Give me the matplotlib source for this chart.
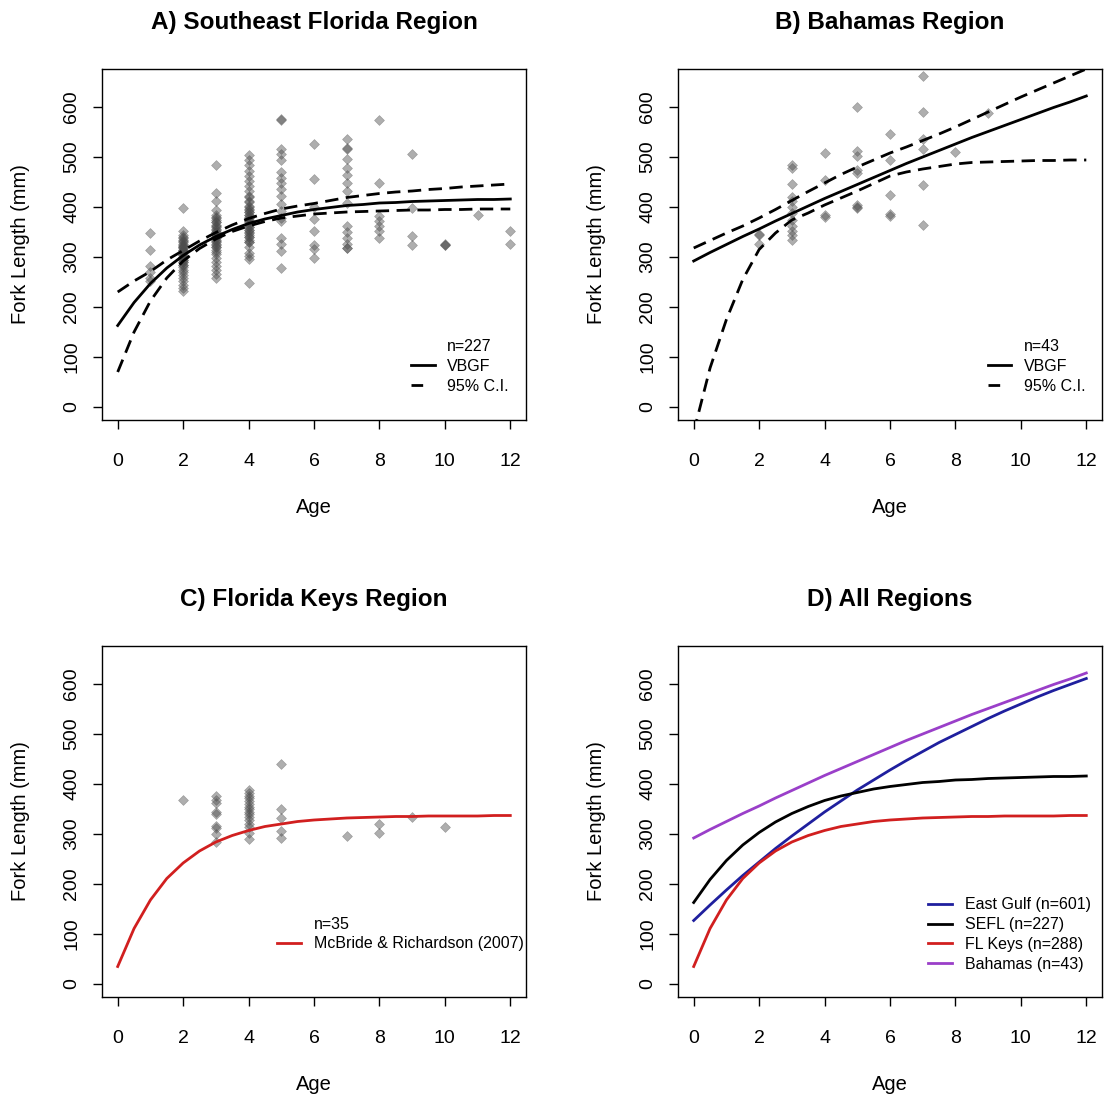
import numpy as np
import matplotlib
matplotlib.use('Agg')
import matplotlib.pyplot as plt
from matplotlib.lines import Line2D

plt.rcParams['font.family'] = ['Liberation Sans', 'DejaVu Sans']

curve_age = np.arange(0, 12.5, 0.5)

# A) Southeast Florida: VBGF and 95% C.I.
sefl_fit = [163, 209, 247, 278, 303, 324, 341, 355, 367, 376, 383, 390, 395,
            399, 403, 405, 408, 409, 411, 412, 413, 414, 415, 415, 416]
sefl_lo = [70, 150, 212, 258, 292, 317, 336, 351, 362, 371, 378, 382, 386,
           388, 390, 391, 392, 393, 394, 394, 395, 395, 396, 396, 396]
sefl_hi = [230, 252, 271, 294, 313, 332, 349, 364, 377, 387, 396, 402, 407,
           413, 419, 423, 427, 430, 432, 435, 437, 440, 442, 444, 446]

# B) Bahamas: VBGF and 95% C.I.
bah_fit = [292, 309, 325, 341, 356, 372, 387, 402, 417, 431, 445, 459, 473,
           487, 500, 513, 526, 539, 551, 563, 575, 587, 599, 610, 622]
bah_lo = [-50, 78, 175, 255, 315, 348, 374, 388, 404, 418, 432, 447, 462,
          470, 476, 481, 486, 489, 490, 491, 492, 493, 493, 494, 494]
bah_hi = [318, 333, 348, 362, 378, 395, 413, 431, 448, 465, 480, 494, 508,
          520, 533, 546, 560, 575, 590, 605, 620, 634, 648, 662, 676]

# C) Florida Keys: McBride & Richardson (2007)
keys_fit = [35, 111, 168, 211, 242, 266, 284, 297, 307, 315, 320, 325, 328,
            330, 332, 333, 334, 335, 335, 336, 336, 336, 336, 337, 337]

# D) East Gulf curve (others reuse the fits above)
gulf_fit = [127, 158, 188, 217, 244, 271, 296, 320, 344, 366, 388, 408, 428,
            447, 465, 483, 499, 515, 531, 546, 560, 574, 587, 599, 611]

# observed fork lengths by age
sefl_ages = [1, 2, 3, 4, 5, 6, 7, 8, 9, 10, 11, 12]
sefl_fl = [
    [348, 315, 283, 270, 258, 252],
    [399, 352, 345, 338, 332, 326, 320, 315, 310, 305, 300, 295, 290, 285, 280,
     275, 270, 264, 258, 252, 245, 238, 232, 300, 310, 320, 330, 305, 315, 325,
     295, 290, 285, 335, 340, 312, 318, 322, 298],
    [485, 428, 412, 395, 385, 378, 370, 363, 356, 350, 344, 338, 332, 326, 320,
     314, 306, 298, 290, 282, 274, 266, 258, 350, 360, 370, 340, 330, 345, 355,
     365, 375, 320, 380, 335, 325, 310],
    [505, 495, 485, 472, 462, 452, 442, 432, 422, 412, 403, 396, 390, 384, 378,
     372, 366, 360, 354, 348, 340, 330, 320, 308, 296, 249, 360, 370, 380, 390,
     350, 365, 375, 385, 395, 355, 345, 400, 410, 420, 340, 335, 330, 302],
    [576, 575, 517, 506, 495, 471, 459, 449, 436, 423, 406, 393, 379, 373, 339,
     326, 313, 279],
    [526, 456, 400, 376, 353, 325, 316, 298],
    [536, 519, 517, 496, 479, 464, 449, 433, 409, 363, 351, 339, 326, 319, 318],
    [575, 449, 383, 373, 363, 353, 339],
    [507, 399, 343, 324],
    [326, 325, 324],
    [384],
    [353, 326],
]

bah_ages = [2, 3, 4, 5, 6, 7, 8, 9]
bah_fl = [
    [347, 345, 327],
    [484, 478, 447, 421, 413, 400, 388, 375, 362, 352, 345, 334],
    [508, 454, 385, 380],
    [601, 512, 502, 475, 468, 405, 400, 398],
    [546, 494, 425, 387, 383],
    [663, 591, 537, 517, 444, 364],
    [511],
    [588],
]

keys_ages = [2, 3, 4, 5, 7, 8, 9, 10]
keys_fl = [
    [369],
    [376, 368, 362, 345, 340, 317, 313, 300, 285],
    [388, 382, 377, 372, 366, 360, 355, 350, 345, 340, 335, 328, 320, 315, 303, 290],
    [441, 351, 333, 307, 293],
    [296],
    [321, 303],
    [335],
    [315],
]

titles = ['A) Southeast Florida Region', 'B) Bahamas Region',
          'C) Florida Keys Region', 'D) All Regions']
region_labels = ['East Gulf (n=601)', 'SEFL (n=227)', 'FL Keys (n=288)',
                 'Bahamas (n=43)']
region_colors = ['#1f1f9e', 'black', '#d11f1f', '#9a3fc9']

W, H = 1107, 1098
fig = plt.figure(figsize=(W / 100, H / 100), dpi=100)


def make_ax(left, bottom):
    return fig.add_axes([left / W, 1 - bottom / H, 424 / W, 351 / H])


axA = make_ax(102, 420)
axB = make_ax(678, 420)
axC = make_ax(102, 997)
axD = make_ax(678, 997)


def style(ax, title):
    ax.set_xlim(-0.48, 12.48)
    ax.set_ylim(-26, 676)
    ax.set_xticks(range(0, 13, 2))
    ax.set_yticks(range(0, 601, 100))
    ax.tick_params(length=6.5, width=1, labelsize=14, pad=17, direction='out')
    ax.tick_params(axis='y', labelrotation=90, pad=9)
    for lbl in ax.get_yticklabels():
        lbl.set_va('center')
    for sp in ax.spines.values():
        sp.set_linewidth(1.0)
    ax.set_title(title, fontsize=17.5, fontweight='bold', pad=29)
    ax.set_xlabel('Age', fontsize=14.5, va='center')
    ax.xaxis.set_label_coords(0.5, -0.25)
    ax.set_ylabel('Fork Length (mm)', fontsize=14.5, va='center')
    ax.yaxis.set_label_coords(-0.193, 0.5)


def scatter(ax, ages, fls):
    xs = [a for a, f in zip(ages, fls) for _ in f]
    ys = [v for f in fls for v in f]
    ax.plot(xs, ys, 'D', ms=5.6, color=(0.3, 0.3, 0.3), alpha=0.45,
            mec=(0.3, 0.3, 0.3), mew=0.4, zorder=2)


dash = (4.8, 2.7)
leg_kw = dict(frameon=False, fontsize=11.5, labelspacing=0.3, handlelength=1.5,
              handletextpad=0.8, borderpad=0, borderaxespad=0, loc='lower right')

# A
style(axA, titles[0])
scatter(axA, sefl_ages, sefl_fl)
axA.plot(curve_age, sefl_fit, color='black', lw=2, zorder=3)
axA.plot(curve_age, sefl_lo, color='black', lw=2, dashes=dash, zorder=3)
axA.plot(curve_age, sefl_hi, color='black', lw=2, dashes=dash, zorder=3)
hA = [Line2D([], [], lw=0), Line2D([], [], color='black', lw=2),
      Line2D([], [], color='black', lw=2, dashes=(4.2, 10))]
axA.legend(hA, ['n=227', 'VBGF', '95% C.I.'], bbox_to_anchor=(0.96, 0.075),
           **leg_kw)

# B
style(axB, titles[1])
scatter(axB, bah_ages, bah_fl)
axB.plot(curve_age, bah_fit, color='black', lw=2, zorder=3)
axB.plot(curve_age, bah_lo, color='black', lw=2, dashes=dash, zorder=3)
axB.plot(curve_age, bah_hi, color='black', lw=2, dashes=dash, zorder=3)
axB.legend(hA, ['n=43', 'VBGF', '95% C.I.'], bbox_to_anchor=(0.962, 0.075),
           **leg_kw)

# C
style(axC, titles[2])
scatter(axC, keys_ages, keys_fl)
axC.plot(curve_age, keys_fit, color=region_colors[2], lw=2, zorder=3)
hC = [Line2D([], [], lw=0), Line2D([], [], color=region_colors[2], lw=2)]
axC.legend(hC, ['n=35', 'McBride & Richardson (2007)'],
           bbox_to_anchor=(0.995, 0.13), **leg_kw)

# D
style(axD, titles[3])
for curve, lab, col in zip([gulf_fit, sefl_fit, keys_fit, bah_fit],
                           region_labels, region_colors):
    axD.plot(curve_age, curve, color=col, lw=2, label=lab)
axD.legend(bbox_to_anchor=(0.973, 0.072), **leg_kw)

fig.savefig('out.png', dpi=100)
